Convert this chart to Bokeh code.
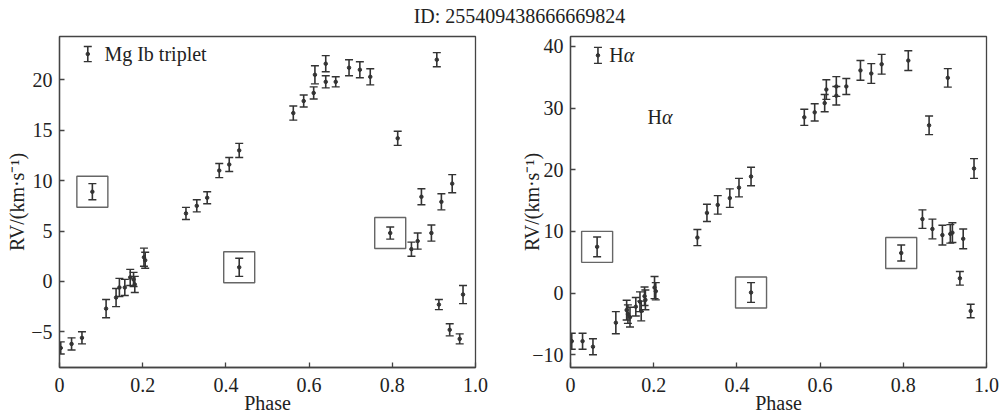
from bokeh.plotting import figure
from bokeh.layouts import column, row
from bokeh.models import ColumnDataSource, Whisker, TeeHead, FixedTicker, Range1d
from bokeh.core.properties import value
from bokeh.embed import file_html
from bokeh.resources import INLINE

FONT = "Liberation Serif"
INK = "#333333"
TXT = "#222222"

title_text = "ID: 255409438666669824"
x_label = "Phase"
y_label = "RV/(km·s⁻¹)"

# ---- Mg Ib triplet ----
phase_mg = [0.003, 0.029, 0.054, 0.112, 0.136, 0.144, 0.157, 0.170, 0.178, 0.181,
            0.203, 0.206, 0.304, 0.330, 0.355, 0.384, 0.408, 0.432, 0.562, 0.587,
            0.611, 0.614, 0.640, 0.640, 0.664, 0.696, 0.722, 0.747, 0.813, 0.846,
            0.861, 0.870, 0.894, 0.907, 0.912, 0.918, 0.938, 0.944, 0.962, 0.970]
rv_mg = [-6.6, -6.2, -5.6, -2.7, -1.6, -0.6, -0.6, 0.4, 0.2, -0.3,
         2.4, 2.1, 6.75, 7.5, 8.3, 11.0, 11.6, 13.0, 16.7, 17.9,
         18.7, 20.5, 21.6, 19.8, 19.8, 21.2, 21.0, 20.3, 14.2, 3.2,
         4.0, 8.4, 4.8, 22.0, -2.3, 7.9, -4.8, 9.7, -5.7, -1.3]
err_mg = [0.6, 0.6, 0.6, 0.9, 0.9, 0.9, 0.8, 0.8, 0.7, 0.8,
          0.9, 0.8, 0.6, 0.6, 0.6, 0.7, 0.7, 0.7, 0.7, 0.6,
          0.6, 0.9, 0.8, 0.6, 0.5, 0.8, 0.8, 0.8, 0.7, 0.7,
          0.8, 0.8, 0.8, 0.7, 0.5, 0.8, 0.6, 0.9, 0.5, 0.9]
box_phase_mg = [0.079, 0.432, 0.795]
box_rv_mg = [8.9, 1.4, 4.8]
box_err_mg = [0.8, 0.9, 0.6]

# ---- H alpha ----
phase_ha = [0.003, 0.029, 0.054, 0.109, 0.135, 0.138, 0.143, 0.157, 0.167, 0.170,
            0.178, 0.180, 0.202, 0.205, 0.305, 0.328, 0.354, 0.383, 0.405, 0.434,
            0.562, 0.587, 0.611, 0.615, 0.639, 0.639, 0.663, 0.697, 0.723, 0.748,
            0.812, 0.846, 0.862, 0.870, 0.894, 0.907, 0.913, 0.918, 0.936, 0.944,
            0.962, 0.970]
rv_ha = [-7.8, -7.8, -8.7, -4.8, -2.75, -3.4, -3.9, -2.2, -1.4, -2.9,
         -0.5, -1.1, 0.9, 0.3, 9.0, 13.0, 14.3, 15.4, 17.1, 18.9,
         28.5, 29.3, 30.8, 33.0, 33.5, 32.0, 33.5, 36.1, 35.6, 37.1,
         37.7, 12.0, 27.2, 10.4, 9.4, 34.9, 9.6, 9.8, 2.4, 8.8,
         -2.9, 20.2]
err_ha = [1.3, 1.3, 1.3, 1.8, 1.6, 1.5, 1.6, 1.5, 1.6, 1.6,
          1.5, 1.6, 1.8, 1.4, 1.3, 1.4, 1.5, 1.5, 1.5, 1.5,
          1.3, 1.4, 1.4, 1.6, 1.6, 1.5, 1.3, 1.6, 1.6, 1.6,
          1.6, 1.5, 1.5, 1.6, 1.6, 1.5, 1.5, 1.6, 1.1, 1.6,
          1.1, 1.6]
box_phase_ha = [0.064, 0.434, 0.795]
box_rv_ha = [7.5, 0.1, 6.5]
box_err_ha = [1.6, 1.6, 1.3]

x_ticks = [0, 0.2, 0.4, 0.6, 0.8, 1.0]
x_tick_labels = ["0", "0.2", "0.4", "0.6", "0.8", "1.0"]
y_ticks_mg = [-5, 0, 5, 10, 15, 20]
y_tick_labels_mg = ["−5", "0", "5", "10", "15", "20"]
y_ticks_ha = [-10, 0, 10, 20, 30, 40]
y_tick_labels_ha = ["−10", "0", "10", "20", "30", "40"]

y_range_mg = (-8.54, 24.3)
y_range_ha = (-12.06, 41.6)


def errorbars(p, xs, ys, es, cap=8):
    src = ColumnDataSource(dict(x=xs, y=ys,
                                lo=[a - b for a, b in zip(ys, es)],
                                hi=[a + b for a, b in zip(ys, es)]))
    w = Whisker(source=src, base="x", lower="lo", upper="hi", dimension="height",
                line_color=INK, line_width=1.6,
                lower_head=TeeHead(size=cap, line_color=INK, line_width=1.4),
                upper_head=TeeHead(size=cap, line_color=INK, line_width=1.4))
    p.add_layout(w)
    p.scatter("x", "y", source=src, size=3.5, color=INK)
    return src


def make_panel(width, left, right, yr, yt, ytl, px, py, pe, bx, by, be, label_standoff):
    p = figure(width=width, height=387, output_backend="svg", toolbar_location=None,
               x_range=Range1d(0, 1), y_range=Range1d(*yr),
               min_border_left=left, min_border_right=right,
               min_border_top=6, min_border_bottom=50,
               background_fill_color="white", border_fill_color="white")
    p.grid.visible = False
    p.outline_line_color = "#444444"
    p.outline_line_width = 1.3
    for ax in (p.xaxis[0], p.yaxis[0]):
        ax.axis_line_color = "#444444"
        ax.axis_line_width = 1.3
        ax.major_tick_line_color = "#444444"
        ax.major_tick_line_width = 1.3
        ax.major_tick_in = 5
        ax.major_tick_out = 0
        ax.minor_tick_line_color = None
        ax.major_label_text_font = FONT
        ax.major_label_text_font_size = "20px"
        ax.major_label_text_color = TXT
        ax.major_label_standoff = 7
        ax.axis_label_text_font = FONT
        ax.axis_label_text_font_size = "20px"
        ax.axis_label_text_font_style = "normal"
        ax.axis_label_text_color = TXT
    p.xaxis.ticker = FixedTicker(ticks=x_ticks)
    p.xaxis.major_label_overrides = dict(zip(x_ticks, x_tick_labels))
    p.xaxis.major_label_standoff = 10
    p.yaxis.ticker = FixedTicker(ticks=yt)
    p.yaxis.major_label_overrides = dict(zip(yt, ytl))
    p.xaxis.axis_label = x_label
    p.yaxis.axis_label = y_label
    p.xaxis.axis_label_standoff = -3
    p.yaxis.axis_label_standoff = label_standoff

    errorbars(p, px, py, pe)
    errorbars(p, bx, by, be)
    p.scatter(bx, by, marker="square", size=31, fill_alpha=0,
              line_color="#666666", line_width=1.4)
    return p


p1 = make_panel(501, 59, 26, y_range_mg, y_ticks_mg, y_tick_labels_mg,
                phase_mg, rv_mg, err_mg, box_phase_mg, box_rv_mg, box_err_mg, 0)
p2 = make_panel(501, 69, 16, y_range_ha, y_ticks_ha, y_tick_labels_ha,
                phase_ha, rv_ha, err_ha, box_phase_ha, box_rv_ha, box_err_ha, -14)

# legends (placed as fractions of the axes)
def frac(rng, f):
    return rng[0] + f * (rng[1] - rng[0])

lx1, ly1 = 0.068, frac(y_range_mg, 0.947)
errorbars(p1, [lx1], [ly1], [0.75])
p1.text([0.108], [ly1], text=["Mg Ib triplet"], text_font=value(FONT),
        text_font_size="20px", text_color=TXT, text_baseline="middle", text_align="left")

lx2, ly2 = 0.066, frac(y_range_ha, 0.943)
errorbars(p2, [lx2], [ly2], [1.3])
for (tx, ty) in [(0.093, ly2), (0.185, frac(y_range_ha, 0.756))]:
    p2.text([tx], [ty], text=["H"], text_font=value(FONT), text_font_size="20px",
            text_color=TXT, text_baseline="middle", text_align="left")
    p2.text([tx], [ty], text=["α"], text_font=value(FONT), text_font_size="20px",
            text_font_style="italic", x_offset=14.5,
            text_color=TXT, text_baseline="middle", text_align="left")

# header with the overall title
hdr = figure(width=1002, height=30, output_backend="svg", toolbar_location=None,
             x_range=Range1d(0, 1002), y_range=Range1d(0, 30), min_border=0,
             border_fill_color="white", background_fill_color="white")
hdr.axis.visible = False
hdr.grid.visible = False
hdr.outline_line_color = None
hdr.text([519], [15], text=[title_text], text_font=value(FONT), text_font_size="20px",
         text_color=TXT, text_align="center", text_baseline="middle")

layout = column(hdr, row(p1, p2, spacing=0), spacing=0)
open("out.html", "w").write(file_html(layout, INLINE))
